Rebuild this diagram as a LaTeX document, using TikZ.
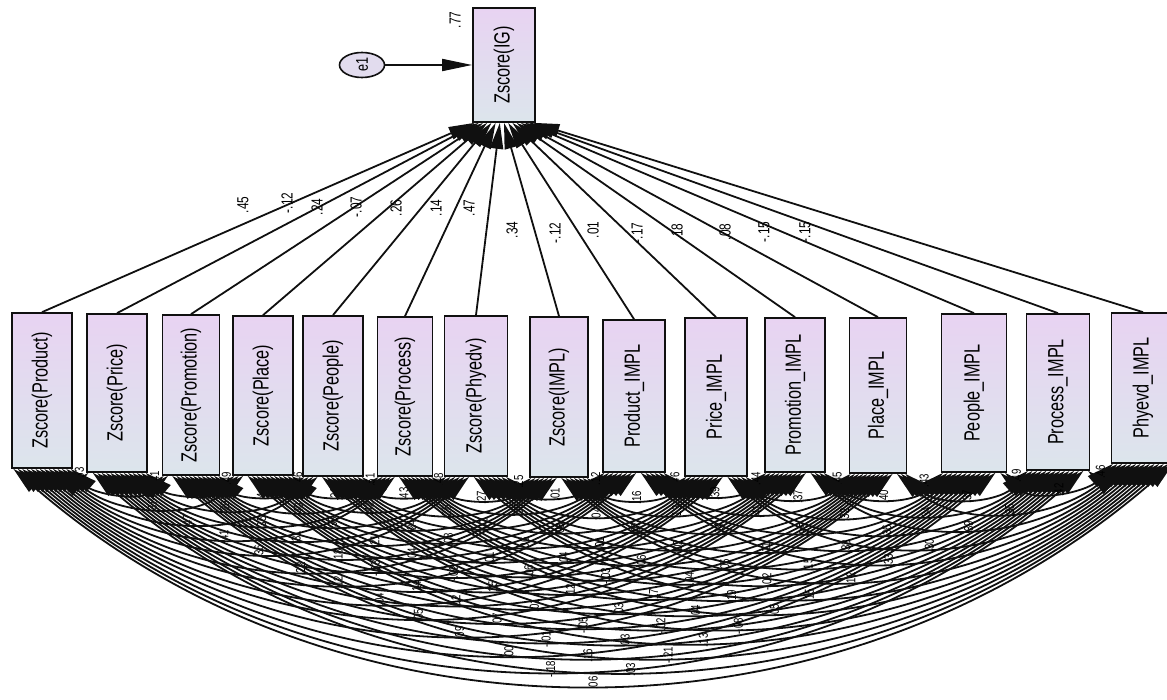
\documentclass[tikz,border=0pt]{standalone}
\usepackage{fontspec}
\setmainfont{Liberation Sans}
\newfontfamily\narrowsans[FakeStretch=0.74]{Liberation Sans}
\usetikzlibrary{arrows.meta,calc,shapes.geometric}

\definecolor{boxtop}{HTML}{E8D3F2}
\definecolor{boxbot}{HTML}{DCE5EC}
\definecolor{ovalfill}{HTML}{E2DCEE}
\definecolor{inkline}{HTML}{101010}

\tikzset{
  varbox/.style={draw=inkline, line width=1.7pt, top color=boxtop, bottom color=boxbot,
    inner sep=0pt, font=\narrowsans\fontsize{22}{22}\selectfont},
  errvar/.style={ellipse, draw=inkline, line width=1.6pt, fill=ovalfill,
    minimum width=45pt, minimum height=25pt, inner sep=0pt,
    font=\narrowsans\fontsize{17}{17}\selectfont},
  regpath/.style={draw=inkline, line width=1.8pt, -{Triangle[length=26pt,width=13pt]}},
  errpath/.style={draw=inkline, line width=1.8pt, -{Triangle[length=30pt,width=12pt]}},
  covarc/.style={draw=inkline, line width=1.8pt,
    {Triangle[length=27pt,width=14pt]}-{Triangle[length=27pt,width=14pt]}},
  weight/.style={font=\narrowsans\fontsize{16}{16}\selectfont, inner sep=0pt},
  covlab/.style={font=\narrowsans\fontsize{13}{13}\selectfont, inner sep=0pt},
}

\begin{document}
\begin{tikzpicture}[x=1pt,y=-1pt]
\useasboundingbox (0,0) rectangle (1167,700);

% dependent variable and its error term
\node[varbox, minimum width=62pt, minimum height=114pt] (ig) at (504,65)
  {\rotatebox{90}{Zscore(IG)}};
\node[weight] (r2) at (455,20) {\rotatebox{90}{.77}};
\node[errvar] (e1) at (362,65) {\rotatebox{90}{e1}};
\draw[errpath] (e1) -- (ig);

% predictors
\foreach \k/\cx/\w/\tp/\bt/\txt in {
  1/42/60/313/468/{Zscore(Product)},
  2/117/60/314/472/{Zscore(Price)},
  3/191/57/315/475/{Zscore(Promotion)},
  4/263/60/316/475/{Zscore(Place)},
  5/333/60/316/476/{Zscore(People)},
  6/405/55/317/476/{Zscore(Process)},
  7/476/63/316/476/{Zscore(Phyedv)},
  8/559/58/317/477/{Zscore(IMPL)},
  9/634/62/320/472/{Product\_IMPL},
  10/716/62/318/476/{Price\_IMPL},
  11/795/60/318/472/{Promotion\_IMPL},
  12/878/57/318/473/{Place\_IMPL},
  13/974/65/314/472/{People\_IMPL},
  14/1058/63/314/470/{Process\_IMPL},
  15/1143/63/313/463/{Phyevd\_IMPL}}{
  \pgfmathsetmacro\hh{\bt-\tp}
  \pgfmathsetmacro\cy{(\bt+\tp)/2}
  \node[varbox, minimum width=\w pt, minimum height=\hh pt] (b\k) at (\cx,\cy)
    {\rotatebox{90}{\txt}};
}

% regression weights
\foreach \k/\v/\lx/\ly in {
  1/.45/243/205, 2/-.12/287/203, 3/.24/317/207, 4/-.07/356/207,
  5/.26/396/208, 6/.14/436/208, 7/.47/469/208, 8/.34/512/230,
  9/-.12/555/233, 10/.01/593/230, 11/-.17/637/233, 12/.18/677/232,
  13/.08/725/232, 14/-.15/764/232, 15/-.15/805/232}{
  \pgfmathsetmacro\f{0.04+0.92*(\k-1)/14}
  \draw[regpath] (b\k.north) -- ($(ig.south west)!\f!(ig.south east)$);
  \node[weight] (w\k) at (\lx,\ly) {\rotatebox{90}{\v}};
}

% covariances between all predictors: circular arcs leaving each box
% bottom at 41 degrees, drawn as cubic curves
\foreach \i/\j/\v in {
  1/2/.53, 1/3/.45, 1/4/.38, 1/5/.47, 1/6/.41, 1/7/.36, 1/8/.22, 1/9/.12,
  1/10/-.04, 1/11/.05, 1/12/.09, 1/13/.00, 1/14/-.18, 1/15/.06,
  2/3/.41, 2/4/.33, 2/5/.29, 2/6/.35, 2/7/.31, 2/8/.18, 2/9/-.03, 2/10/.14,
  2/11/.02, 2/12/.07, 2/13/-.01, 2/14/.16, 2/15/.03,
  3/4/.49, 3/5/.44, 3/6/.40, 3/7/.38, 3/8/.21, 3/9/.04, 3/10/-.02, 3/11/.15,
  3/12/.01, 3/13/-.05, 3/14/.03, 3/15/-.21,
  4/5/.46, 4/6/.39, 4/7/.42, 4/8/.24, 4/9/.08, 4/10/.01, 4/11/-.06, 4/12/.12,
  4/13/.03, 4/14/-.02, 4/15/.13,
  5/6/.51, 5/7/.43, 5/8/.26, 5/9/.02, 5/10/.06, 5/11/.04, 5/12/-.03, 5/13/.17,
  5/14/.04, 5/15/-.08,
  6/7/.48, 6/8/.27, 6/9/.05, 6/10/.03, 6/11/.01, 6/12/.06, 6/13/-.04, 6/14/.19,
  6/15/.05,
  7/8/.25, 7/9/.01, 7/10/.04, 7/11/.07, 7/12/.02, 7/13/.05, 7/14/-.02, 7/15/.15,
  8/9/.12, 8/10/.16, 8/11/.13, 8/12/.14, 8/13/.11, 8/14/.15, 8/15/.12,
  9/10/.46, 9/11/.39, 9/12/.41, 9/13/.35, 9/14/.38, 9/15/.33,
  10/11/.44, 10/12/.37, 10/13/.32, 10/14/.36, 10/15/.30,
  11/12/.45, 11/13/.40, 11/14/.34, 11/15/.39,
  12/13/.43, 12/14/.37, 12/15/.35,
  13/14/.49, 13/15/.42,
  14/15/.46}{
  \pgfmathsetmacro\fa{(\i+14-\j+0.5)/14}
  \pgfmathsetmacro\fb{(\j-1-\i+0.5)/14}
  \draw[covarc] let \p1=($(b\i.south west)!\fa!(b\i.south east)$),
                    \p2=($(b\j.south west)!\fb!(b\j.south east)$),
                    \n1={0.38*(\x2-\x1)} in
    (\p1) .. controls (\x1+0.7547*\n1, \y1-0.6561*\n1)
              and (\x2-0.7547*\n1, \y2-0.6561*\n1) .. (\p2)
    node[covlab, pos=0.5] {\rotatebox{90}{\v}};
}
\end{tikzpicture}
\end{document}
